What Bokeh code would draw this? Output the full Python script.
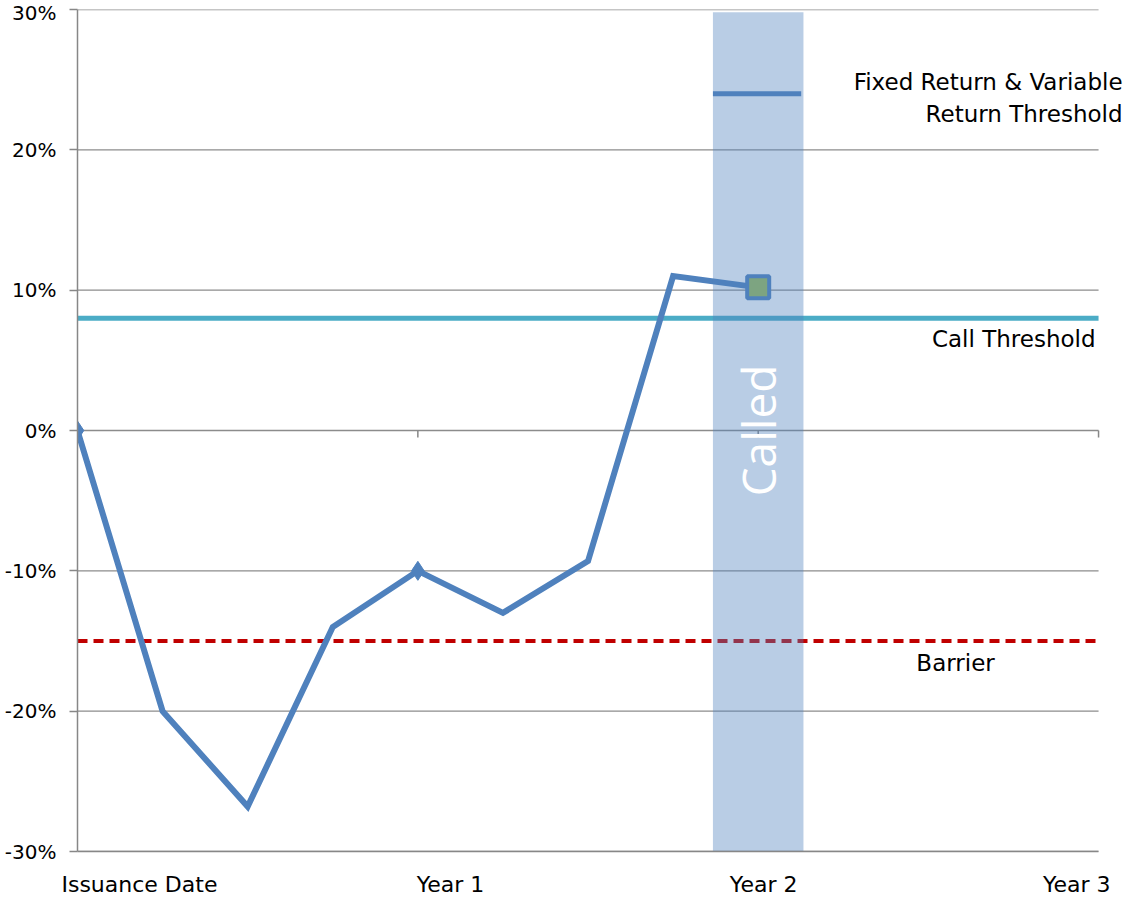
import math
from bokeh.plotting import figure
from bokeh.models import Range1d, FixedTicker, NumeralTickFormatter, Label
from bokeh.embed import file_html
from bokeh.resources import INLINE

# ---------------- data ----------------
t_years = [0.0, 0.25, 0.5, 0.75, 1.0, 1.25, 1.5, 1.75, 2.0]
performance = [0.0, -0.20, -0.268, -0.140, -0.100, -0.130, -0.093, 0.110, 0.102]
marker_years = [0.0, 1.0]
marker_values = [0.0, -0.10]
called_year = [2.0]
called_value = [0.102]
call_threshold = 0.08
barrier = -0.15
fixed_return_threshold = 0.24
band_half_width = 0.133
band_top = 0.298
x_tick_labels = ["Issuance Date", "Year 1", "Year 2", "Year 3"]
x_label_pos = [0.182, 1.096, 2.016, 2.936]
year_ticks = [1.0, 2.0, 3.0]
y_ticks = [-0.3, -0.2, -0.1, 0.0, 0.1, 0.2, 0.3]
x_start, x_end, x_view_end = 0.0, 3.0, 3.088

BLUE = "#4f81bd"
TEAL = "#4bacc6"
RED = "#c00000"
GREEN = "#9bbb59"
GREY = "#878787"
FONT = "DejaVu Sans"

p = figure(width=1128, height=900, output_backend="svg", toolbar_location=None,
           x_range=Range1d(x_start, x_view_end), y_range=Range1d(-0.3, 0.3),
           min_border_left=77, min_border_right=0, min_border_top=9, min_border_bottom=49)
p.outline_line_color = None
p.background_fill_color = "white"

# axes
p.xaxis.ticker = FixedTicker(ticks=x_label_pos)
p.xaxis.bounds = (x_start, x_end)
p.xaxis.major_label_overrides = {pos: lab for pos, lab in zip(x_label_pos, x_tick_labels)}
p.xaxis.major_tick_line_color = None
p.xaxis.minor_tick_line_color = None
p.xaxis.major_tick_out = 0
p.xaxis.major_tick_in = 0
p.xaxis.major_label_standoff = 20
p.xaxis.axis_line_color = GREY
p.xaxis.axis_line_width = 1.5
p.xaxis.major_label_text_font = FONT
p.xaxis.major_label_text_font_size = "22px"
p.xaxis.major_label_text_color = "black"

p.yaxis.ticker = FixedTicker(ticks=y_ticks)
p.yaxis.formatter = NumeralTickFormatter(format="0%")
p.yaxis.axis_line_color = GREY
p.yaxis.axis_line_width = 1.5
p.yaxis.major_tick_line_color = GREY
p.yaxis.major_tick_line_width = 1.5
p.yaxis.major_tick_out = 8
p.yaxis.major_tick_in = 0
p.yaxis.minor_tick_line_color = None
p.yaxis.major_label_standoff = 13
p.yaxis.major_label_text_font = FONT
p.yaxis.major_label_text_font_size = "20px"
p.yaxis.major_label_text_color = "black"

p.xgrid.grid_line_color = None
p.ygrid.grid_line_color = None

# horizontal gridlines, limited to the plotted time span
p.segment(x0=[x_start] * len(y_ticks), y0=y_ticks, x1=[x_end] * len(y_ticks), y1=y_ticks,
          line_color="#8c8c8c", line_width=1.3)

# tick marks on the zero line
p.segment(x0=year_ticks, y0=[0.0] * len(year_ticks), x1=year_ticks,
          y1=[-0.005] * len(year_ticks), line_color=GREY, line_width=1.5)

# barrier and call threshold
p.line(x=[x_start, x_end], y=[barrier, barrier], line_color=RED, line_width=4, line_dash="10 6")
p.line(x=[x_start, x_end], y=[call_threshold, call_threshold], line_color=TEAL, line_width=5)

# performance path
p.line(x=t_years, y=performance, line_color=BLUE, line_width=6, line_join="miter")
p.scatter(x=marker_years, y=marker_values, marker="diamond", size=19,
          fill_color=BLUE, line_color=BLUE)
p.scatter(x=called_year, y=called_value, marker="square", size=22,
          fill_color=GREEN, line_color=BLUE, line_width=4)

# fixed return threshold
p.line(x=[called_year[0] - band_half_width, called_year[0] + band_half_width * 0.95],
       y=[fixed_return_threshold, fixed_return_threshold], line_color=BLUE, line_width=5)

# called band
p.quad(left=[called_year[0] - band_half_width], right=[called_year[0] + band_half_width],
       bottom=[-0.3], top=[band_top], fill_color=BLUE, fill_alpha=0.4, line_color=None)

# text annotations
def lab(text, x, y, xo, yo, align="right", size="23px", color="black", angle=0.0, font=FONT):
    p.add_layout(Label(x=x, y=y, x_offset=xo, y_offset=yo, text=text, text_align=align,
                       text_baseline="middle", text_font=font, text_font_size=size,
                       text_color=color, angle=angle))

lab("Called", called_year[0], 0.0, 0, 0, align="center", size="46px", color="white",
    angle=math.pi / 2, font="Open Sans")
lab("Call Threshold", x_end, call_threshold, -3, -21)
lab("Barrier", x_end, barrier, -143, -22, align="center")
lab("Fixed Return & Variable", x_end, fixed_return_threshold, 24, 12)
lab("Return Threshold", x_end, fixed_return_threshold, 24, -20)

open("out.html", "w").write(file_html(p, INLINE))
